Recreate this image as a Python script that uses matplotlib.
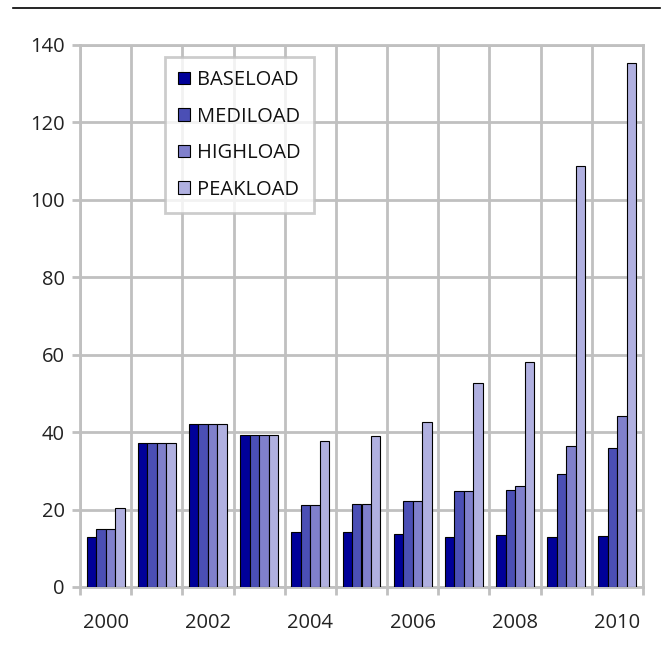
import matplotlib
matplotlib.use("Agg")
import matplotlib.pyplot as plt
import numpy as np
from matplotlib.lines import Line2D

years = ["2000", "2001", "2002", "2003", "2004", "2005", "2006", "2007", "2008", "2009", "2010"]
baseload = [12.8, 37.1, 42.0, 39.2, 14.1, 14.1, 13.6, 12.9, 13.5, 12.8, 13.3]
mediload = [15.0, 37.1, 42.0, 39.2, 21.1, 21.5, 22.2, 24.7, 25.1, 29.1, 36.0]
highload = [15.0, 37.1, 42.0, 39.2, 21.1, 21.5, 22.2, 24.7, 26.1, 36.3, 44.2]
peakload = [20.5, 37.1, 42.0, 39.2, 37.8, 39.1, 42.5, 52.8, 58.2, 108.7, 135.4]
series_names = ["BASELOAD", "MEDILOAD", "HIGHLOAD", "PEAKLOAD"]
colors = ["#000099", "#4b4fb5", "#8080cc", "#b0b0e0"]

plt.rcParams['font.family'] = ['Open Sans', 'DejaVu Sans']

fig = plt.figure(figsize=(6.72, 6.48), dpi=100)
ax = fig.add_axes([80/672, 1-587/648, 563/672, 542/648])

x = np.arange(len(years))
group_w = 0.74
bw = group_w / 4
data = [baseload, mediload, highload, peakload]
for i, (vals, name, c) in enumerate(zip(data, series_names, colors)):
    ax.bar(x - group_w/2 + bw*(i+0.5), vals, width=bw, color=c, edgecolor="black",
           linewidth=0.8, label=name, zorder=3)

grid_c = "#c0c0c0"
fs = 14.5
ax.set_xlim(-0.5, len(years)-0.5)
ax.set_ylim(0, 140)
ax.set_yticks(np.arange(0, 141, 20))
ax.set_xticks(x[::2])
ax.set_xticklabels(years[::2])
ax.set_xticks(np.arange(-0.5, len(years), 1), minor=True)
ax.tick_params(axis='x', which='major', length=0, labelsize=fs, pad=19, colors='#222222')
ax.tick_params(axis='x', which='minor', length=6, width=2, color=grid_c)
ax.tick_params(axis='y', which='major', length=6, width=2, color=grid_c, labelsize=fs,
               pad=5, labelcolor='#222222')
ax.grid(True, axis='y', which='major', color=grid_c, linewidth=2, zorder=0)
ax.grid(True, axis='x', which='minor', color=grid_c, linewidth=2, zorder=0)
ax.set_axisbelow(True)
for s in ax.spines.values():
    s.set_color(grid_c)
    s.set_linewidth(2)

leg = ax.legend(loc='upper left', bbox_to_anchor=(0.151, 0.978), frameon=True,
                fancybox=False, edgecolor=grid_c, fontsize=fs, handlelength=0.6,
                handleheight=0.6, handletextpad=0.35, labelspacing=0.82,
                borderpad=0.65, borderaxespad=0)
leg.get_frame().set_linewidth(2)
for t in leg.get_texts():
    t.set_color('#111111')

fig.add_artist(Line2D([13/672, 660/672], [1-8/648, 1-8/648], color='black', linewidth=1.2))

fig.savefig("out.png", dpi=100)
